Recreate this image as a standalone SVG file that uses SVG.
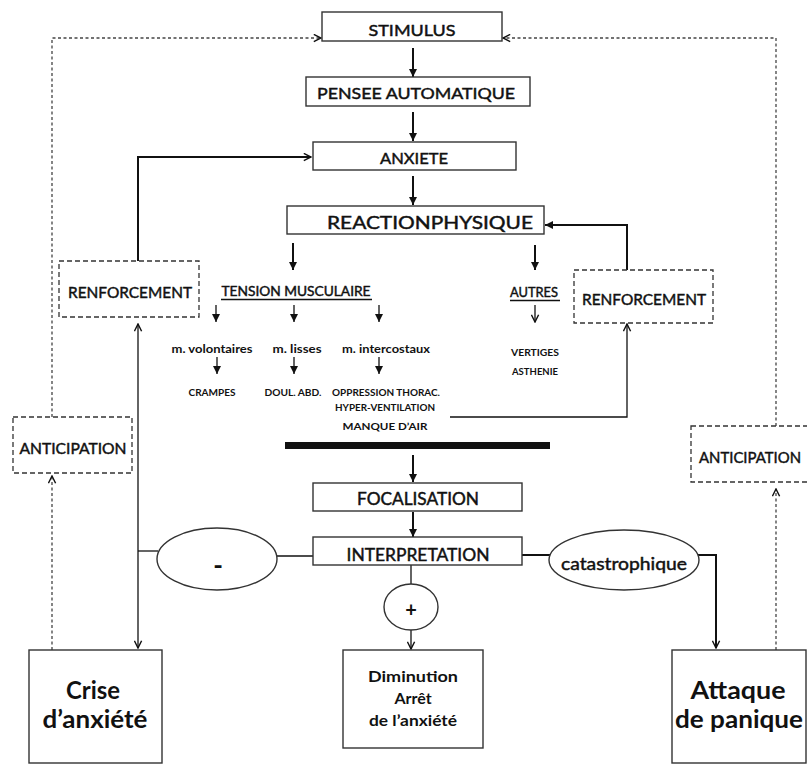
<svg xmlns="http://www.w3.org/2000/svg" width="807" height="764" viewBox="0 0 807 764">
<style>
.bx{fill:#fff;stroke:#333;stroke-width:1.4}
.db{fill:#fff;stroke:#333;stroke-width:1.3;stroke-dasharray:5 3}
.t{font-family:Lato,"Open Sans","Liberation Sans",sans-serif;fill:#111;text-anchor:middle}
.h{stroke:#111;stroke-width:0.45}
.b{font-weight:bold}
.c{fill:none;stroke:#111;stroke-width:1.3}
.c2{fill:none;stroke:#111;stroke-width:2}
.d{fill:none;stroke:#444;stroke-width:1.3;stroke-dasharray:3 2.5}
</style>
<defs>
<marker id="fa" viewBox="0 0 10 10" refX="10" refY="5" markerWidth="9" markerHeight="8" markerUnits="userSpaceOnUse" orient="auto"><path d="M0,0 L10,5 L0,10 z" fill="#111"/></marker>
<marker id="oa" viewBox="0 0 10 10" refX="9" refY="5" markerWidth="9" markerHeight="9" markerUnits="userSpaceOnUse" orient="auto-start-reverse"><path d="M1,1 L9,5 L1,9" fill="none" stroke="#111" stroke-width="1.6"/></marker>
</defs>
<rect width="807" height="764" fill="#fff"/>

<g id="connectors">
<path class="d" d="M52,417 V38 H321" marker-end="url(#oa)"/>
<path class="d" d="M776,426 V38 H503" marker-end="url(#oa)"/>
<path class="c2" d="M413,48 V77" marker-end="url(#fa)"/>
<path class="c2" d="M413,112 V141" marker-end="url(#fa)"/>
<path class="c2" d="M413,176 V205" marker-end="url(#fa)"/>
<path class="c2" d="M138,261 V157 H311" marker-end="url(#oa)"/>
<path class="c2" d="M627,270 V225 H545" marker-end="url(#fa)"/>
<path class="c2" d="M293,243 V270" marker-end="url(#fa)"/>
<path class="c2" d="M535,245 V270" marker-end="url(#fa)"/>
<path class="c" d="M216,305 V322" marker-end="url(#fa)"/>
<path class="c" d="M294,305 V322" marker-end="url(#fa)"/>
<path class="c" d="M379,305 V322" marker-end="url(#fa)"/>
<path class="c" d="M535,305 V322" marker-end="url(#oa)"/>
<path class="c" d="M217,357 V374" marker-end="url(#fa)"/>
<path class="c" d="M294,357 V374" marker-end="url(#fa)"/>
<path class="c" d="M379,357 V374" marker-end="url(#fa)"/>
<path class="c" d="M450,417 H627 V324" marker-end="url(#oa)"/>
<path class="c" d="M138,324 V648" marker-start="url(#oa)" marker-end="url(#oa)"/>
<rect x="285" y="442" width="265" height="7" fill="#111"/>
<path class="c2" d="M413,455 V482" marker-end="url(#fa)"/>
<path class="c2" d="M413,512 V537" marker-end="url(#fa)"/>
<path class="c" d="M138,551 H158"/>
<path class="c" d="M276,556 H313"/>
<path class="c" d="M411,565 V584"/>
<path class="c" d="M411,630 V649" marker-end="url(#oa)"/>
<path class="c2" d="M522,555 H550"/>
<path class="c2" d="M698,555 H716 V648" marker-end="url(#oa)"/>
<path class="d" d="M52,650 V476" marker-end="url(#oa)"/>
<path class="d" d="M776,650 V489" marker-end="url(#oa)"/>
</g>

<g id="stimulus"><rect class="bx" x="322" y="12" width="180" height="29"/><text class="t h" x="412" y="36" font-size="16" textLength="87" lengthAdjust="spacingAndGlyphs">STIMULUS</text></g>
<g id="pensee"><rect class="bx" x="306" y="77" width="224" height="29"/><text class="t h" x="416" y="99" font-size="16" textLength="198" lengthAdjust="spacingAndGlyphs">PENSEE AUTOMATIQUE</text></g>
<g id="anxiete"><rect class="bx" x="313" y="142" width="203" height="28"/><text class="t h" x="414" y="164" font-size="16" textLength="68" lengthAdjust="spacingAndGlyphs">ANXIETE</text></g>
<g id="reaction"><rect class="bx" x="287" y="206" width="257" height="28"/><text class="t h" x="430" y="229" font-size="18" textLength="206" lengthAdjust="spacingAndGlyphs">REACTIONPHYSIQUE</text></g>

<g id="renforcement-left"><rect class="db" x="59" y="261" width="140" height="56"/><text class="t h" x="130" y="298" font-size="16" textLength="124" lengthAdjust="spacingAndGlyphs">RENFORCEMENT</text></g>
<g id="renforcement-right"><rect class="db" x="574" y="270" width="139" height="53"/><text class="t h" x="644" y="305" font-size="16" textLength="124" lengthAdjust="spacingAndGlyphs">RENFORCEMENT</text></g>

<g id="tension"><text class="t h" x="296" y="296" font-size="14" textLength="149" lengthAdjust="spacingAndGlyphs">TENSION MUSCULAIRE</text><line x1="221" y1="299.5" x2="372" y2="299.5" stroke="#111" stroke-width="1.4"/></g>
<g id="autres"><text class="t h" x="534" y="297" font-size="14" textLength="48" lengthAdjust="spacingAndGlyphs">AUTRES</text><line x1="510" y1="300.5" x2="560" y2="300.5" stroke="#111" stroke-width="1.4"/></g>

<g id="m-volontaires"><text class="t b" x="212" y="353" font-size="11" textLength="81" lengthAdjust="spacingAndGlyphs">m. volontaires</text><text class="t b" x="212" y="396" font-size="8.5" textLength="47" lengthAdjust="spacingAndGlyphs">CRAMPES</text></g>
<g id="m-lisses"><text class="t b" x="297" y="353" font-size="11" textLength="49" lengthAdjust="spacingAndGlyphs">m. lisses</text><text class="t b" x="293" y="396" font-size="8.5" textLength="57" lengthAdjust="spacingAndGlyphs">DOUL. ABD.</text></g>
<g id="m-intercostaux"><text class="t b" x="386" y="353" font-size="11" textLength="88" lengthAdjust="spacingAndGlyphs">m. intercostaux</text><text class="t b" x="386" y="396" font-size="8.5" textLength="108" lengthAdjust="spacingAndGlyphs">OPPRESSION THORAC.</text><text class="t b" x="385" y="411" font-size="8.5" textLength="100" lengthAdjust="spacingAndGlyphs">HYPER-VENTILATION</text><text class="t b" x="385" y="430" font-size="8.5" textLength="85" lengthAdjust="spacingAndGlyphs">MANQUE D’AIR</text></g>
<g id="autres-list"><text class="t b" x="535" y="356" font-size="9" textLength="48" lengthAdjust="spacingAndGlyphs">VERTIGES</text><text class="t b" x="535" y="375" font-size="9" textLength="46" lengthAdjust="spacingAndGlyphs">ASTHENIE</text></g>

<g id="anticipation-left"><rect class="db" x="13" y="417" width="119" height="56"/><text class="t h" x="73" y="454" font-size="16" textLength="107" lengthAdjust="spacingAndGlyphs">ANTICIPATION</text></g>
<g id="anticipation-right"><rect class="db" x="691" y="426" width="126" height="56"/><text class="t h" x="750" y="463" font-size="16" textLength="102" lengthAdjust="spacingAndGlyphs">ANTICIPATION</text></g>

<g id="focalisation"><rect class="bx" x="313" y="483" width="209" height="28"/><text class="t h" x="418" y="505" font-size="17" textLength="122" lengthAdjust="spacingAndGlyphs">FOCALISATION</text></g>
<g id="interpretation"><rect class="bx" x="313" y="537" width="209" height="28"/><text class="t h" x="418" y="561" font-size="17" textLength="143" lengthAdjust="spacingAndGlyphs">INTERPRETATION</text></g>

<g id="moins"><ellipse class="bx" cx="217" cy="559" rx="60" ry="31"/><text class="t b" x="218" y="575" font-size="26">-</text></g>
<g id="plus"><ellipse class="bx" cx="411" cy="607" rx="27" ry="23"/><text class="t b" x="411" y="617" font-size="20">+</text></g>
<g id="catastrophique"><ellipse class="bx" cx="624" cy="560" rx="75" ry="30"/><text class="t h" x="624" y="570" font-size="17" textLength="126" lengthAdjust="spacingAndGlyphs">catastrophique</text></g>

<g id="crise"><rect class="bx" x="29" y="650" width="133" height="113"/><text class="t b" x="93" y="699" font-size="24" textLength="54" lengthAdjust="spacingAndGlyphs">Crise</text><text class="t b" x="95" y="728" font-size="24" textLength="105" lengthAdjust="spacingAndGlyphs">d’anxiété</text></g>
<g id="diminution"><rect class="bx" x="343" y="650" width="140" height="98"/><text class="t b" x="413" y="682" font-size="16" textLength="90" lengthAdjust="spacingAndGlyphs">Diminution</text><text class="t b" x="413" y="704" font-size="16">Arrêt</text><text class="t b" x="413" y="726" font-size="16" textLength="88" lengthAdjust="spacingAndGlyphs">de l’anxiété</text></g>
<g id="attaque"><rect class="bx" x="672" y="650" width="134" height="113"/><text class="t b" x="738" y="699" font-size="24" textLength="95" lengthAdjust="spacingAndGlyphs">Attaque</text><text class="t b" x="739" y="728" font-size="24" textLength="128" lengthAdjust="spacingAndGlyphs">de panique</text></g>
</svg>
